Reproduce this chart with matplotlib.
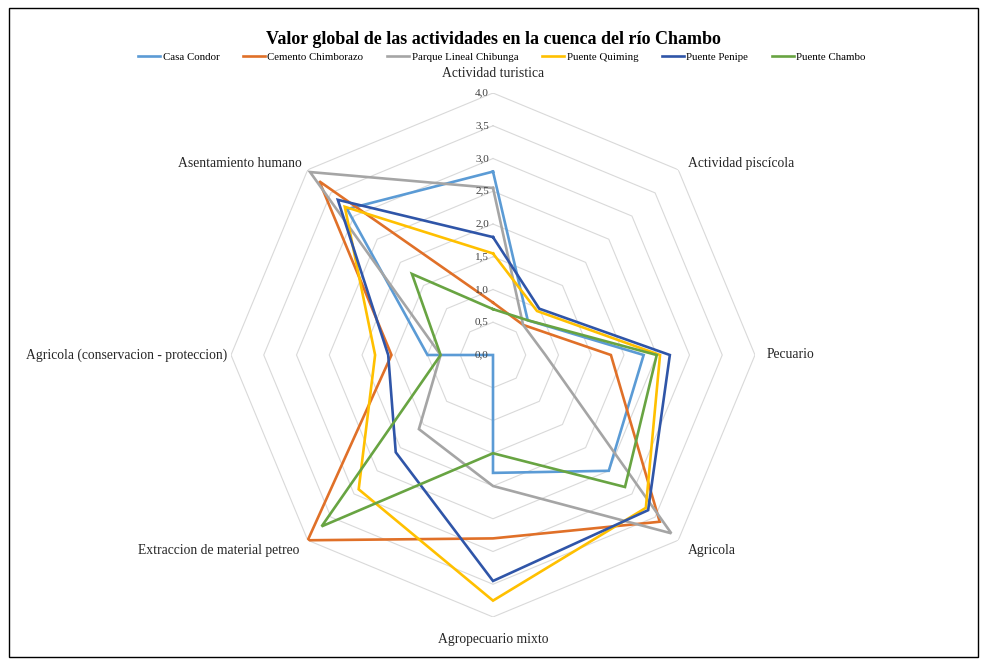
import numpy as np
import matplotlib
matplotlib.use("Agg")
import matplotlib.pyplot as plt
import matplotlib.transforms as mtrans
from matplotlib.patches import Rectangle
from matplotlib.lines import Line2D

plt.rcParams['font.family'] = ['Liberation Serif', 'DejaVu Serif']

title = "Valor global de las actividades en la cuenca del río Chambo"
categories = ["Actividad turistica", "Actividad piscícola", "Pecuario", "Agricola",
              "Agropecuario mixto", "Extraccion de material petreo",
              "Agricola (conservacion - proteccion)", "Asentamiento humano"]
series_names = ["Casa Condor", "Cemento Chimborazo", "Parque Lineal Chibunga",
                "Puente Quiming", "Puente Penipe", "Puente Chambo"]
casa_condor = [2.8, 0.75, 2.3, 2.5, 1.8, 0.0, 1.0, 3.15]
cemento_chimborazo = [0.8, 0.65, 1.8, 3.6, 2.8, 4.0, 1.55, 3.75]
parque_lineal = [2.55, 0.65, 0.8, 3.85, 2.0, 1.6, 0.8, 3.95]
puente_quiming = [1.55, 0.95, 2.55, 3.3, 3.75, 2.9, 1.8, 3.2]
puente_penipe = [1.8, 1.0, 2.7, 3.35, 3.45, 2.1, 1.6, 3.35]
puente_chambo = [0.7, 0.75, 2.5, 2.85, 1.5, 3.7, 0.8, 1.75]
radial_ticks = [0.0, 0.5, 1.0, 1.5, 2.0, 2.5, 3.0, 3.5, 4.0]
radial_labels = ["0,0", "0,5", "1,0", "1,5", "2,0", "2,5", "3,0", "3,5", "4,0"]

series_values = [casa_condor, cemento_chimborazo, parque_lineal,
                 puente_quiming, puente_penipe, puente_chambo]
colors = ["#5B9BD5", "#E07028", "#A5A5A5", "#FFC000", "#2F55A8", "#68A442"]

W, H = 986, 660
fig = plt.figure(figsize=(W / 100, H / 100), dpi=100)

cx, cy, R = 493, 355, 262
ax = fig.add_axes([(cx - R) / W, (H - cy - R) / H, 2 * R / W, 2 * R / H], projection='polar')
ax.set_theta_zero_location('N')
ax.set_theta_direction(-1)
ax.set_ylim(0, 4)
ax.grid(False)
ax.spines['polar'].set_visible(False)
ax.set_xticks([])
ax.set_yticks([])
ax.patch.set_alpha(0)

n = len(categories)
angles = np.arange(n) * 2 * np.pi / n
closed_angles = np.append(angles, angles[0])

# octagonal grid
for r in radial_ticks[1:]:
    ax.plot(closed_angles, [r] * (n + 1), color="#D9D9D9", lw=0.8, zorder=1)

for name, vals, c in zip(series_names, series_values, colors):
    ax.plot(closed_angles, list(vals) + [vals[0]], color=c, lw=1.9, label=name, zorder=3,
            solid_joinstyle='miter')

off = mtrans.ScaledTranslation(-3 / 72, 0, fig.dpi_scale_trans)
for r, lab in zip(radial_ticks, radial_labels):
    ax.text(0, r, lab, ha='right', va='center', fontsize=8, color="#404040",
            transform=ax.transData + off, zorder=4)

label_specs = [
    (4.20, 'center', 'bottom', 0, 0),
    (4.0, 'left', 'center', 10, 6),
    (4.18, 'left', 'center', 0, 0),
    (4.0, 'left', 'top', 10, -4),
    (4.25, 'center', 'top', 0, 0),
    (4.0, 'right', 'top', -8, -4),
    (4.05, 'right', 'center', 0, 0),
    (4.0, 'right', 'center', -6, 6),
]
for a, lab, (r, ha, va, dx, dy) in zip(angles, categories, label_specs):
    tr = ax.transData + mtrans.ScaledTranslation(dx / 100, dy / 100, fig.dpi_scale_trans)
    ax.text(a, r, lab, ha=ha, va=va, fontsize=9.8, color="#262626", transform=tr)

fig.text(0.5, 1 - 40 / H, title, ha='center', va='center', fontsize=13, fontweight='bold')

handles = [Line2D([0], [0], color=c, lw=1.9) for c in colors]
fig.legend(handles, series_names, loc='center', bbox_to_anchor=(502 / W, 1 - 57 / H),
           ncol=6, frameon=False, fontsize=7.8, handlelength=2.0, handletextpad=0.25,
           columnspacing=2.2)

fig.patches.append(Rectangle((9 / W, 3 / H), (978 - 9) / W, (652 - 3) / H,
                             transform=fig.transFigure, fill=False, ec='black', lw=1.0))

fig.savefig("out.png", dpi=100)
